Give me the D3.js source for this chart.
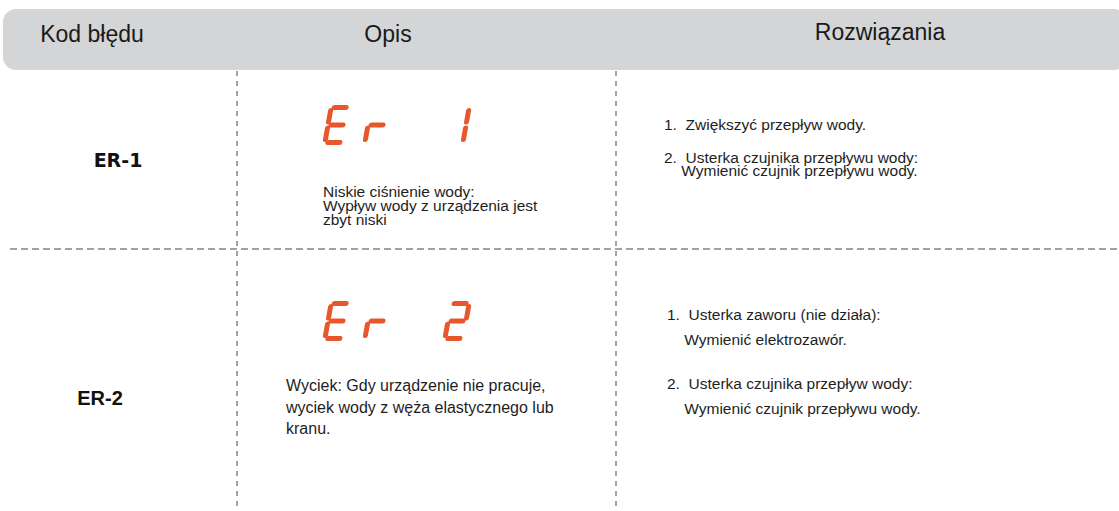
<!DOCTYPE html>
<html>
<head>
<meta charset="utf-8">
<script src="https://cdn.jsdelivr.net/npm/d3@7"></script>
<style>
  html, body { margin: 0; padding: 0; background: #ffffff; }
  svg { display: block; }
  text { white-space: pre; }
</style>
</head>
<body>
<script>
// ---- data ----
const headers = ["Kod błędu", "Opis", "Rozwiązania"];
const codes = ["ER-1", "ER-2"];
const displayCodes = ["Er 1", "Er 2"];
const descriptions = [
  ["Niskie ciśnienie wody:", "Wypływ wody z urządzenia jest", "zbyt niski"],
  ["Wyciek: Gdy urządzenie nie pracuje,", "wyciek wody z węża elastycznego lub", "kranu."]
];
const solutionsER1 = [
  ["1.  Zwiększyć przepływ wody."],
  ["2.  Usterka czujnika przepływu wody:", "    Wymienić czujnik przepływu wody."]
];
const solutionsER2 = [
  ["1.  Usterka zaworu (nie działa):", "    Wymienić elektrozawór."],
  ["2.  Usterka czujnika przepływ wody:", "    Wymienić czujnik przepływu wody."]
];
const solutions = [solutionsER1, solutionsER2];

// ---- layout ----
const W = 1119, H = 511;
const svg = d3.select("body").append("svg").attr("width", W).attr("height", H);

const headerTop = 9, headerBottom = 70;
const colSep = [237, 616];
const rowSep = 249;

const x = d3.scaleOrdinal().domain(headers).range([92, 388, 880]);
const headerBaseline = d3.scaleOrdinal().domain(headers).range([42, 42, 40]);

// per-row layout
const rowLayout = [
  { codeX: 118, codeY: 167, codeFont: "'DejaVu Sans', sans-serif", codeSize: 19,
    segBottom: 145, descX: 323, descY: 197, descLH: 14, descSize: 15.5,
    solX: 664, solY: 130, itemGap: 33, solLH: 12.5 },
  { codeX: 100, codeY: 405, codeFont: "'Liberation Sans', Arial, sans-serif", codeSize: 20,
    segBottom: 341, descX: 286, descY: 391, descLH: 21.5, descSize: 16,
    solX: 667, solY: 320, itemGap: 69, solLH: 25 }
];

// header band
svg.append("rect")
  .attr("x", 3).attr("y", headerTop)
  .attr("width", 1124).attr("height", headerBottom - headerTop)
  .attr("rx", 13).attr("ry", 13)
  .attr("fill", "#d4d5d7");

svg.selectAll("text.header").data(headers).join("text")
  .attr("class", "header")
  .attr("x", d => x(d))
  .attr("y", d => headerBaseline(d))
  .attr("text-anchor", "middle")
  .attr("font-family", "'Liberation Sans', Arial, sans-serif")
  .attr("font-size", 23)
  .attr("fill", "#1a1a1a")
  .text(d => d);

// grid lines
svg.selectAll("line.vsep").data(colSep).join("line")
  .attr("class", "vsep")
  .attr("x1", d => d).attr("x2", d => d)
  .attr("y1", headerBottom + 1).attr("y2", H)
  .attr("stroke", "#a3a3a3").attr("stroke-width", 2)
  .attr("stroke-dasharray", "5,5");

svg.append("line")
  .attr("x1", 10).attr("x2", W)
  .attr("y1", rowSep).attr("y2", rowSep)
  .attr("stroke", "#a3a3a3").attr("stroke-width", 2)
  .attr("stroke-dasharray", "7,4");

// codes
codes.forEach((c, i) => {
  const L = rowLayout[i];
  svg.append("text")
    .attr("x", L.codeX).attr("y", L.codeY)
    .attr("text-anchor", "middle")
    .attr("font-family", L.codeFont)
    .attr("font-weight", "bold")
    .attr("font-size", L.codeSize)
    .attr("fill", "#111")
    .text(c);
});

// seven segment displays
const segMap = {
  "E": "adefg", "r": "eg", "1": "bc", "2": "abged", " ": ""
};
const sw = 18, sh = 35, gap = 3, thick = 5;
function segLines() {
  const xl = 2.5, xr = 2.5 + sw, yb = -2.5, yt = -2.5 - sh, ym = (yb + yt) / 2;
  return {
    a: [[xl + gap, yt], [xr - gap, yt]],
    b: [[xr, yt + gap], [xr, ym - gap]],
    c: [[xr, ym + gap], [xr, yb - gap]],
    d: [[xl + gap, yb], [xr - gap, yb]],
    e: [[xl, ym + gap], [xl, yb - gap]],
    f: [[xl, yt + gap], [xl, ym - gap]],
    g: [[xl + gap, ym], [xr - gap, ym]]
  };
}
const segs = segLines();
const digitX = d3.scaleLinear().domain([0, 3]).range([322, 442]);

displayCodes.forEach((str, i) => {
  const L = rowLayout[i];
  const chars = str.split("");
  chars.forEach((ch, k) => {
    const on = (segMap[ch] || "").split("").filter(s => s);
    const g = svg.append("g")
      .attr("transform", `translate(${digitX(k)},${L.segBottom}) skewX(-10)`);
    g.selectAll("line").data(on).join("line")
      .attr("x1", s => segs[s][0][0]).attr("y1", s => segs[s][0][1])
      .attr("x2", s => segs[s][1][0]).attr("y2", s => segs[s][1][1])
      .attr("stroke", "#e8562b")
      .attr("stroke-width", thick)
      .attr("stroke-linecap", "round");
  });
});

// descriptions
descriptions.forEach((lines, i) => {
  const L = rowLayout[i];
  svg.selectAll(null).data(lines).join("text")
    .attr("x", L.descX)
    .attr("y", (d, j) => L.descY + j * L.descLH)
    .attr("font-family", "'Liberation Sans', Arial, sans-serif")
    .attr("font-size", L.descSize)
    .attr("fill", "#1e1e1e")
    .text(d => d);
});

// solutions
solutions.forEach((items, i) => {
  const L = rowLayout[i];
  items.forEach((lines, k) => {
    svg.selectAll(null).data(lines).join("text")
      .attr("x", L.solX)
      .attr("y", (d, j) => L.solY + k * L.itemGap + j * L.solLH)
      .attr("font-family", "'Liberation Sans', Arial, sans-serif")
      .attr("font-size", 15.5)
      .attr("fill", "#1e1e1e")
      .text(d => d);
  });
});
</script>
</body>
</html>
